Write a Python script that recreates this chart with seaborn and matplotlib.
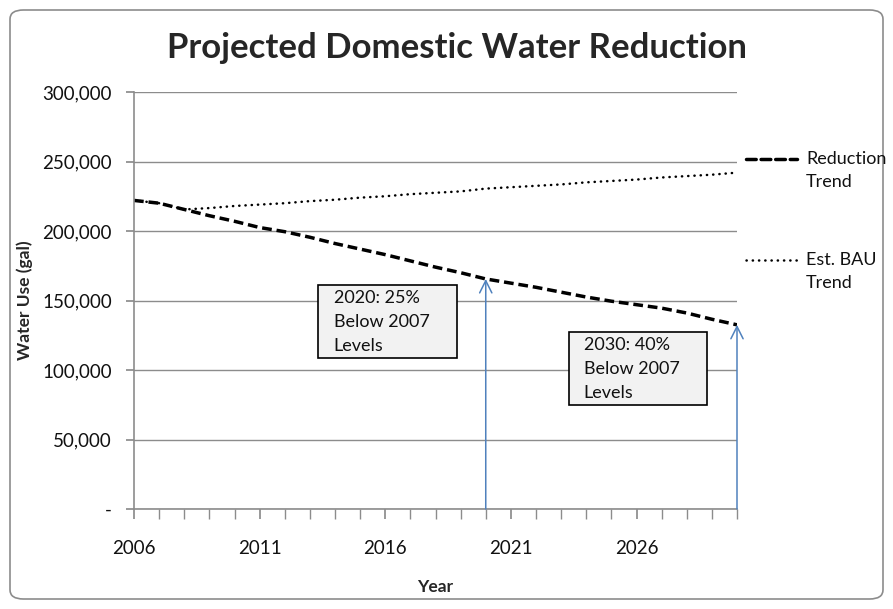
import matplotlib
matplotlib.use("Agg")
import matplotlib.pyplot as plt
import seaborn as sns
import pandas as pd
from matplotlib.patches import FancyBboxPatch, Rectangle
from matplotlib.lines import Line2D

years = list(range(2006, 2031))
reduction = [222000, 220000, 215500, 211000, 207000, 202500, 199500, 195500, 191000,
             187000, 183000, 178500, 174000, 170000, 165500, 162500, 159500, 156000,
             152500, 149500, 147000, 144500, 141000, 136500, 132500]
bau = [222000, 220000, 215500, 216500, 218000, 219000, 220000, 221500, 222500,
       224000, 225000, 226500, 227500, 228500, 230500, 231500, 232500, 233500,
       235000, 236000, 237000, 238500, 239500, 240500, 242000]
yticks = [0, 50000, 100000, 150000, 200000, 250000, 300000]
ytick_labels = ["-", "50,000", "100,000", "150,000", "200,000", "250,000", "300,000"]
xtick_major = [2006, 2011, 2016, 2021, 2026]
series_names = ["Reduction\nTrend", "Est. BAU\nTrend"]
notes = ["2020: 25%\nBelow 2007\nLevels", "2030: 40%\nBelow 2007\nLevels"]

sns.set_theme(style="white")
plt.rcParams['font.family'] = ['Lato', 'DejaVu Sans']

W, H = 893, 609
fig = plt.figure(figsize=(W / 100, H / 100), dpi=100)
ax = fig.add_axes([134 / W, 1 - 509 / H, (737 - 134) / W, (509 - 92) / H])

DOT = (0, (0.1, 2.4))
DASH = (0, (2.8, 1.4))

df = pd.DataFrame({"Year": years, "Reduction": reduction, "BAU": bau})
sns.lineplot(data=df, x="Year", y="BAU", ax=ax, color="black", lw=1.8,
             linestyle=DOT, dash_capstyle="round")
sns.lineplot(data=df, x="Year", y="Reduction", ax=ax, color="black", lw=2.5,
             linestyle=DASH)

ax.set_xlim(2006, 2030)
ax.set_ylim(0, 300000)
ax.set_yticks(yticks)
ax.set_yticklabels(ytick_labels)
ax.set_xticks(xtick_major)
ax.set_xticks(years, minor=True)
ax.set_xticklabels([str(y) for y in xtick_major])
ax.grid(axis="y", color="#8c8c8c", lw=1)
ax.grid(axis="x", visible=False)
for s in ["top", "right"]:
    ax.spines[s].set_visible(False)
for s in ["left", "bottom"]:
    ax.spines[s].set_color("#8c8c8c")
    ax.spines[s].set_linewidth(1.2)
ax.tick_params(axis="y", which="major", left=True, length=6, color="#8c8c8c",
               labelsize=13.5, pad=10, labelcolor="#111111")
ax.tick_params(axis="x", which="both", bottom=True, length=7, color="#8c8c8c",
               direction="out")
ax.tick_params(axis="x", which="major", labelsize=13.5, pad=15, labelcolor="#111111")
ax.set_xlabel("Year", fontsize=12.5, fontweight="bold", labelpad=16)
ax.set_ylabel("Water Use (gal)", fontsize=12.5, fontweight="bold")
ax.yaxis.set_label_coords(-0.167, 0.5)

# arrows
arrow_col = "#4F81BD"
for yr in [2020, 2030]:
    val = reduction[years.index(yr)]
    ax.annotate("", xy=(yr, val), xytext=(yr, 0),
                arrowprops=dict(arrowstyle="->", color=arrow_col, lw=1.1,
                                mutation_scale=22, shrinkA=0, shrinkB=0),
                annotation_clip=False)

# annotation boxes
boxes = [(2013.34, 108850, 5.53, 52300, 2013.95, 157500),
         (2023.32, 74800, 5.48, 52540, 2023.90, 123700)]
for (bx, by, bw, bh, tx, ty), note in zip(boxes, notes):
    ax.add_patch(Rectangle((bx, by), bw, bh, facecolor="#f2f2f2", edgecolor="black",
                           lw=1.2, zorder=5, clip_on=False))
    ax.text(tx, ty, note, ha="left", va="top", fontsize=13, linespacing=1.62,
            color="#111111", zorder=6)

# title
fig.text(457 / W, 1 - 48 / H, "Projected Domestic Water Reduction", ha="center",
         va="center", fontsize=25, fontweight="bold")

# legend (manual)
leg_items = [(159, DASH, 2.5), (260, DOT, 1.8)]
for (ly, ls, lw), name in zip(leg_items, series_names):
    fig.add_artist(Line2D([746 / W, 797 / W], [1 - ly / H, 1 - ly / H], color="black",
                          lw=lw, linestyle=ls, dash_capstyle="round"))
    fig.text(806 / W, 1 - (ly - 8) / H, name, ha="left", va="top", fontsize=13,
             linespacing=1.55, color="#111111")

# outer border
fig.add_artist(FancyBboxPatch((10 / W, 10 / H), 873 / W, 589 / H,
                              boxstyle="round,pad=0,rounding_size=0.015",
                              transform=fig.transFigure, facecolor="none",
                              edgecolor="#8c8c8c", lw=1.2))

fig.savefig("out.png", dpi=100)
